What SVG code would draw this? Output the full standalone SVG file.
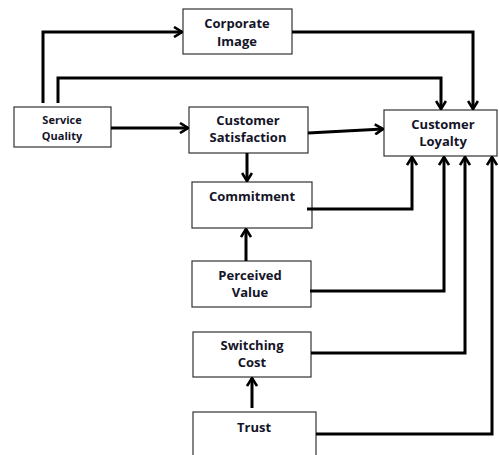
<svg xmlns="http://www.w3.org/2000/svg" width="499" height="455" viewBox="0 0 499 455">
<style>
.box{fill:#fff;stroke:#333;stroke-width:1.2}
.t{font-family:"Open Sans","Liberation Sans",sans-serif;font-weight:bold;font-size:13px;fill:#141428;text-anchor:middle}
.s{font-size:11px}
.c{fill:none;stroke:#000;stroke-width:3;marker-end:url(#ah)}
</style>
<defs>
<marker id="ah" viewBox="0 0 10 12" refX="9" refY="6" markerWidth="10" markerHeight="12" markerUnits="userSpaceOnUse" orient="auto">
<path d="M1,1 L9,6 L1,11" fill="none" stroke="#000" stroke-width="2.6"/>
</marker>
</defs>
<rect width="499" height="455" fill="#fff"/>
<g id="service-quality"><rect class="box" x="14" y="107" width="97" height="40"/><text class="t s" x="62" y="124">Service</text><text class="t s" x="62" y="140">Quality</text></g>
<g id="corporate-image"><rect class="box" x="183" y="9" width="109" height="45"/><text class="t" x="237" y="28">Corporate</text><text class="t" x="237" y="46">Image</text></g>
<g id="customer-satisfaction"><rect class="box" x="189" y="107" width="119" height="46"/><text class="t" x="248" y="125">Customer</text><text class="t" x="248" y="142">Satisfaction</text></g>
<g id="customer-loyalty"><rect class="box" x="384" y="110" width="113" height="46"/><text class="t" x="443" y="129">Customer</text><text class="t" x="443" y="146">Loyalty</text></g>
<g id="commitment"><rect class="box" x="192" y="182" width="120" height="46"/><text class="t" x="252" y="201">Commitment</text></g>
<g id="perceived-value"><rect class="box" x="192" y="261" width="119" height="46"/><text class="t" x="250" y="280">Perceived</text><text class="t" x="250" y="297">Value</text></g>
<g id="switching-cost"><rect class="box" x="193" y="332" width="118" height="45"/><text class="t" x="252" y="350">Switching</text><text class="t" x="252" y="367">Cost</text></g>
<g id="trust"><rect class="box" x="193" y="412" width="123" height="50"/><text class="t" x="254" y="432">Trust</text></g>
<g id="connectors">
<path class="c" d="M43,103 V32 H182"/>
<path class="c" d="M58,103 V78 H441 V109"/>
<path class="c" d="M292,32 H473 V109"/>
<path class="c" d="M111,128 H188"/>
<path class="c" d="M308,133 L383,129"/>
<path class="c" d="M247,153 V181"/>
<path class="c" d="M307,209 H412 V157"/>
<path class="c" d="M246,261 V229"/>
<path class="c" d="M310,291 H444 V157"/>
<path class="c" d="M311,353 H465 V157"/>
<path class="c" d="M252,408 V378"/>
<path class="c" d="M316,434 H492 V157"/>
</g>
</svg>
